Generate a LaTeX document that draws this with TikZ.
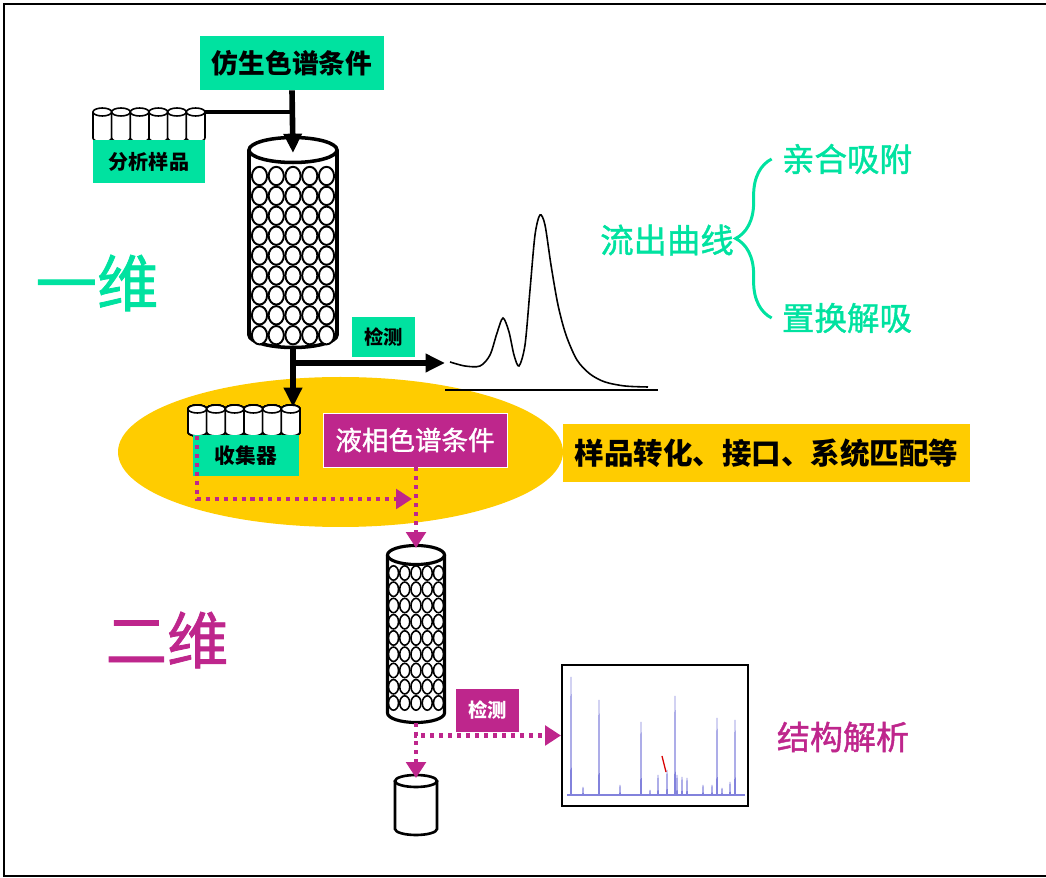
\documentclass[tikz,border=0pt]{standalone}
\usepackage{fontspec}
\setmainfont{Noto Sans CJK SC}
\newfontfamily\heavyfont{Noto Sans CJK SC}[FakeBold=1.3]
\usetikzlibrary{arrows.meta, decorations.pathreplacing}

\definecolor{mint}{RGB}{0,226,160}
\definecolor{rose}{RGB}{190,38,140}
\definecolor{amber}{RGB}{255,204,0}
\definecolor{specBlue}{RGB}{130,130,220}

\newcommand{\sizept}[1]{\fontsize{#1}{#1}\selectfont}

% cx, top, bottom, x radius, y radius, line width
\newcommand{\drawTube}[6]{%
  \fill[white] ({#1-#4},{#2}) -- ({#1-#4},{#3}) arc (180:0:#4 and #5)
    -- ({#1+#4},{#2}) arc (0:-180:#4 and #5) -- cycle;
  \draw[line width=#6] ({#1-#4},{#2}) -- ({#1-#4},{#3}) arc (180:0:#4 and #5) -- ({#1+#4},{#2});
  \draw[line width=#6] ({#1},{#2}) ellipse (#4 and #5);
}

\tikzstyle{mintRectangle} = [
    rectangle,
    fill=mint,
    inner sep=0pt,
    text=black,
    text centered
    ]
\tikzstyle{roseRectangle} = [
    rectangle,
    fill=rose,
    draw=white,
    inner sep=0pt,
    text=white,
    text centered
    ]
\tikzstyle{amberRectangle} = [
    rectangle,
    fill=amber,
    inner sep=0pt,
    text=black,
    text centered
    ]
\tikzstyle{mintLabel} = [text=mint, inner sep=0pt]
\tikzstyle{roseLabel} = [text=rose, inner sep=0pt]
\tikzstyle{blackArrow} = [
    line width=3.2pt,
    -{Triangle[width=10pt,length=11pt]}
    ]
\tikzstyle{roseArrow} = [
    rose,
    line width=2.3pt,
    dash pattern=on 2.3pt off 2.8pt,
    -{Triangle[width=11pt,length=9pt]}
    ]

\begin{document}
\begin{tikzpicture}[x=0.02cm, y=-0.02cm]
    \useasboundingbox (0,0) rectangle (1046,878);
    \draw[line width=1.2pt] (1046,4) -- (4,4) -- (4,876) -- (1046,876);

    \fill[amber] (340.5,452) ellipse (222.5 and 75);

    % first column
    \drawTube{293}{150}{335}{44}{12.5}{2pt}
    \foreach \i in {-2,...,2}
      \foreach \j in {0,...,8}
        \draw[line width=1.1pt, fill=white] ({293+16.75*\i},{176+19.9*\j}) ellipse (7.6 and 9.2);
    \coordinate (colOneTop) at (293,153);
    \coordinate (colOneBot) at (293,347);

    % second column and vial
    \drawTube{416}{555}{713}{28.5}{9.5}{1.8pt}
    \foreach \i in {-2,...,2}
      \foreach \j in {0,...,8}
        \draw[line width=0.9pt, fill=white] ({416+11.25*\i},{573+16.25*\j}) ellipse (5 and 7.2);
    \coordinate (colTwoTop) at (416,548);
    \coordinate (colTwoBot) at (416,723);
    \drawTube{416}{781}{829}{21}{6}{1.5pt}
    \coordinate (vialTop) at (416,778);

    % trays
    \foreach \k in {0,...,5}
      \drawTube{102.3+18.67*\k}{112}{138}{9.33}{4}{0.9pt}
    \foreach \k in {0,...,5}
      \drawTube{197.3+18.67*\k}{409}{432}{9.33}{4}{0.9pt}
    \coordinate (sampleTray) at (205,112);
    \coordinate (collectIn) at (293,407);
    \coordinate (fracOut) at (197,436);
    \coordinate (fracIn) at (412,499);

    % elution curve
    \draw[line width=1pt] (445,390) -- (658,390);
    \draw[line width=0.9pt] plot[smooth] coordinates {(450,362) (465,366) (480,366) (490,355)
      (497,333) (503,318) (509,332) (514,355) (519,366) (525,345) (530,290) (535,235)
      (540,215) (545,225) (551,265) (558,305) (566,335) (577,360) (590,374) (605,382)
      (625,386) (648,387)};
    \coordinate (peakStart) at (445,363);

    \node[mintRectangle, minimum width=3.7cm, minimum height=1.08cm, font=\sizept{15.2}\bfseries] at (292,63) (bioCond) {仿生色谱条件};
    \node[mintRectangle, minimum width=2.24cm, minimum height=0.86cm, font=\sizept{11.4}\bfseries] at (149,161.5) (sampleLabel) {分析样品};
    \node[mintRectangle, minimum width=1.28cm, minimum height=0.8cm, font=\sizept{11}\bfseries] at (383.5,337) (detectOne) {检测};
    \node[mintRectangle, minimum width=2.12cm, minimum height=0.82cm, font=\sizept{11.8}\bfseries] at (246,455.5) (collectLabel) {收集器};
    \node[roseRectangle, minimum width=3.68cm, minimum height=1.08cm, font=\sizept{15.1}\heavyfont] at (415,440) (lcCond) {液相色谱条件};
    \node[amberRectangle, minimum width=8.14cm, minimum height=1.16cm, font=\sizept{16.8}\bfseries] at (766.5,453) (matchNote) {样品转化、接口、系统匹配等};
    \node[roseRectangle, draw=none, minimum width=1.26cm, minimum height=0.86cm, font=\sizept{11}\bfseries] at (487.5,710.5) (detectTwo) {检测};
    \node[draw, line width=1.2pt, fill=white, minimum width=3.72cm, minimum height=2.82cm] at (655,735.5) (msBox) {};

    % mass spectrum
    \draw[specBlue, line width=0.6pt] (567,795) -- (745,795);
    \foreach \px/\py in {571/677, 583/787, 599/700, 620/785, 641/722, 650/790, 658/775, 667/770, 675/696,
        677/775, 682/777, 687/778, 703/785, 712/785, 717/718, 722/788, 730/782, 735/720}
      \draw[specBlue, line width=0.5pt] ({\px-0.4},795) -- (\px,\py) -- ({\px+0.4},795);
    \draw[red!85!black, line width=0.7pt] (662,756) -- (666,772);

    \node[mintLabel, font=\sizept{35}\heavyfont] at (97,283) (oneDim) {一维};
    \node[roseLabel, font=\sizept{35}\heavyfont] at (167,640) (twoDim) {二维};
    \node[mintLabel, font=\sizept{19}\heavyfont] at (667,240) (flowText) {流出曲线};
    \node[mintLabel, font=\sizept{18.5}\heavyfont] at (847,159) (adsorb) {亲合吸附};
    \node[mintLabel, font=\sizept{18.5}\heavyfont] at (847,318) (desorb) {置换解吸};
    \node[roseLabel, font=\sizept{18.8}\heavyfont] at (843,737) (structText) {结构解析};

    \draw[mint, line width=1.7pt, decorate, decoration={brace, amplitude=0.72cm}]
      ([xshift=-0.2cm]desorb.west) -- ([xshift=-0.2cm]adsorb.west);

    \draw[blackArrow] (bioCond.south) -- (colOneTop);
    \draw[line width=2.3pt] (sampleTray) -- (sampleTray -| bioCond);
    \draw[blackArrow] (colOneBot) -- (collectIn);
    \draw[blackArrow] (colOneBot |- peakStart) -- (peakStart);
    \draw[roseArrow] (fracOut) |- (fracIn);
    \draw[roseArrow] (lcCond.south -| colTwoTop) -- (colTwoTop);
    \draw[roseArrow] (colTwoBot) |- (msBox.west);
    \draw[roseArrow] (colTwoBot) -- (vialTop);
\end{tikzpicture}
\end{document}
